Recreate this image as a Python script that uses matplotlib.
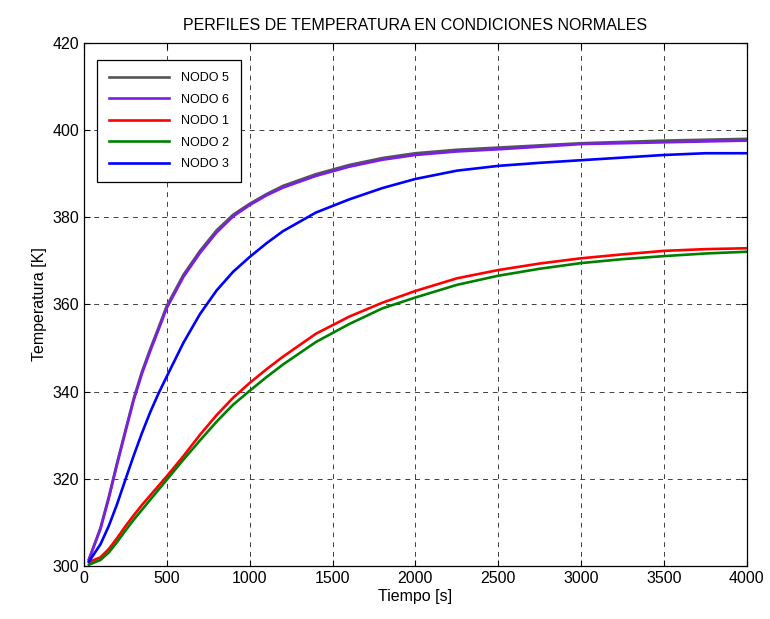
import matplotlib
matplotlib.use("Agg")
import matplotlib.pyplot as plt

plt.rcParams['font.family'] = ['Liberation Sans', 'DejaVu Sans']

# time [s] and node temperatures [K]
tiempo = [30, 100, 150, 200, 250, 300, 350, 400, 450, 500, 600, 700, 800, 900,
          1000, 1100, 1200, 1400, 1600, 1800, 2000, 2250, 2500, 2750, 3000,
          3250, 3500, 3750, 4000]

nodo5 = [301.5, 308.8, 315.9, 323.7, 331.1, 338.4, 344.6, 349.8, 354.7, 359.7,
         366.8, 372.3, 377.0, 380.6, 383.1, 385.3, 387.2, 389.9, 392.0, 393.6,
         394.7, 395.5, 396.0, 396.5, 397.0, 397.3, 397.6, 397.8, 398.0]
nodo6 = [301.5, 308.5, 315.5, 323.3, 330.7, 338.0, 344.1, 349.3, 354.2, 359.2,
         366.3, 371.8, 376.5, 380.2, 382.8, 385.0, 386.8, 389.5, 391.6, 393.2,
         394.3, 395.1, 395.6, 396.2, 396.8, 397.0, 397.2, 397.4, 397.6]
nodo1 = [300.9, 302.0, 303.9, 306.4, 309.1, 311.6, 314.0, 316.2, 318.4, 320.6,
         325.2, 330.1, 334.6, 338.6, 342.0, 345.1, 348.0, 353.3, 357.2, 360.4,
         363.1, 366.0, 367.9, 369.4, 370.6, 371.5, 372.3, 372.7, 372.9]
nodo2 = [300.3, 301.4, 303.1, 305.5, 308.1, 310.6, 312.9, 315.2, 317.5, 319.8,
         324.4, 328.8, 333.1, 337.0, 340.2, 343.3, 346.2, 351.4, 355.5, 359.1,
         361.6, 364.5, 366.6, 368.2, 369.5, 370.4, 371.1, 371.7, 372.1]
nodo3 = [301.0, 305.0, 309.2, 314.2, 319.8, 325.3, 330.5, 335.3, 339.6, 343.5,
         351.2, 357.8, 363.2, 367.5, 370.9, 374.0, 376.8, 381.1, 384.1, 386.7,
         388.8, 390.7, 391.8, 392.5, 393.1, 393.7, 394.3, 394.7, 394.7]

series = [
    ('NODO 5', nodo5, '#555555'),
    ('NODO 6', nodo6, '#7B1FE6'),
    ('NODO 1', nodo1, '#FF0000'),
    ('NODO 2', nodo2, '#008000'),
    ('NODO 3', nodo3, '#0000FF'),
]

fig = plt.figure(figsize=(7.7, 6.19), dpi=100)
ax = fig.add_axes([0.109, 0.0856, 0.861, 0.845])

for label, temps, color in series:
    ax.plot(tiempo, temps, color=color, lw=1.9, label=label)

ax.set_xlim(0, 4000)
ax.set_ylim(300, 420)
ax.set_xticks(range(0, 4001, 500))
ax.set_yticks(range(300, 421, 20))
ax.tick_params(direction='in', top=True, right=True, labelsize=11.5, length=4)
ax.grid(True, color='black', linestyle=(0, (5, 5)), linewidth=0.7, alpha=0.75)
for sp in ax.spines.values():
    sp.set_linewidth(0.9)

ax.set_title('PERFILES DE TEMPERATURA EN CONDICIONES NORMALES', fontsize=11.5, pad=9)
ax.set_xlabel('Tiempo [s]', fontsize=11.5, labelpad=2)
ax.set_ylabel('Temperatura [K]', fontsize=11.5, labelpad=4)

leg = ax.legend(loc='upper left', bbox_to_anchor=(0.0196, 0.9675), borderaxespad=0,
                fontsize=9, handlelength=4.8, handletextpad=0.9, labelspacing=0.75,
                borderpad=1.0, fancybox=False, framealpha=1)
leg.get_frame().set_edgecolor('black')
leg.get_frame().set_linewidth(0.9)

fig.savefig('out.png', dpi=100)
